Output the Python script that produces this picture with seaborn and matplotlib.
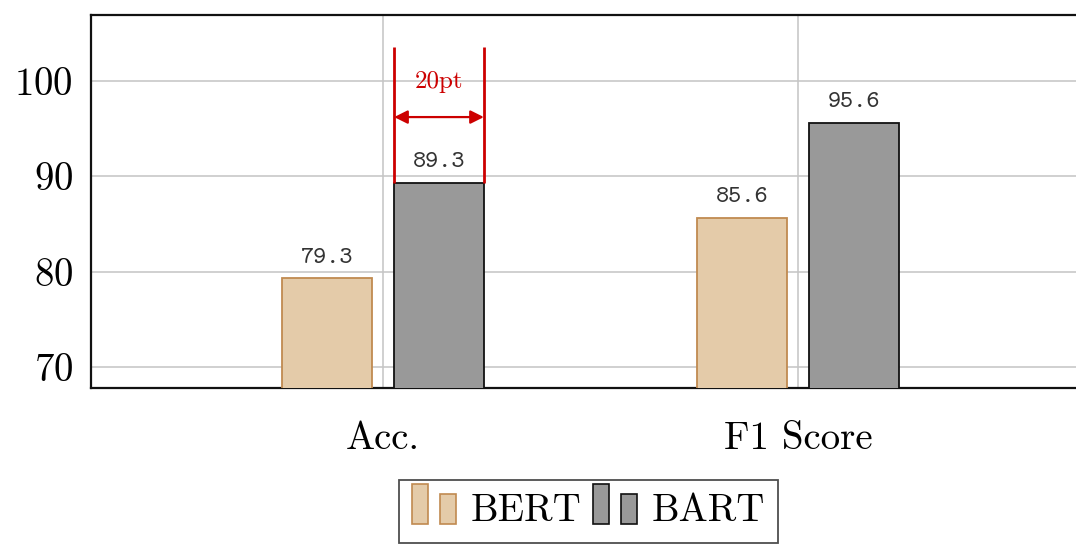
import pandas as pd
import seaborn as sns
import matplotlib
matplotlib.use("Agg")
import matplotlib.pyplot as plt
import matplotlib.patches as mpatches
from matplotlib.legend_handler import HandlerBase

# data
metrics = ["Acc.", "F1 Score"]
bert_scores = [79.3, 85.6]
bart_scores = [89.3, 95.6]
models = ["BERT", "BART"]
y_ticks = [70, 80, 90, 100]
gap_label = "20pt"

bert_fill, bert_edge = "#e4cba9", "#c08a50"
bart_fill, bart_edge = "#999999", "#111111"
red = "#cc0000"


class HandlerTwoBars(HandlerBase):
    # pgfplots ybar legend: two small bars per entry
    def create_artists(self, legend, orig_handle, xdescent, ydescent,
                       width, height, fontsize, trans):
        w = width * 0.37
        y0 = -ydescent - 0.1 * height
        kw = dict(facecolor=orig_handle.get_facecolor(),
                  edgecolor=orig_handle.get_edgecolor(), lw=1.2, transform=trans)
        r1 = mpatches.Rectangle((-xdescent, y0), w, height * 1.45, **kw)
        r2 = mpatches.Rectangle((-xdescent + width * 0.65, y0), w, height * 1.08, **kw)
        return [r1, r2]


sns.set_style("white")
plt.rcParams['font.family'] = ['cmr10', 'DejaVu Serif']
plt.rcParams['axes.formatter.use_mathtext'] = True
plt.rcParams['text.color'] = 'black'
plt.rcParams['xtick.labelcolor'] = 'black'
plt.rcParams['ytick.labelcolor'] = 'black'

df = pd.DataFrame({
    "metric": metrics * 2,
    "score": bert_scores + bart_scores,
    "model": [models[0]] * len(metrics) + [models[1]] * len(metrics),
})

fig = plt.figure(figsize=(10.76, 5.5), dpi=100)
ax = fig.add_axes([91 / 1076, 1 - 388 / 550, (1090 - 91) / 1076, (388 - 15) / 550])

sns.barplot(data=df, x="metric", y="score", hue="model", ax=ax,
            palette=[bert_fill, bart_fill], width=0.54, gap=0.2, saturation=1,
            legend=False, zorder=3)

edges = [bert_edge, bart_edge]
for cont, ec in zip(ax.containers, edges):
    for bar in cont:
        bar.set_edgecolor(ec)
        bar.set_linewidth(1.3)
    ax.bar_label(cont, fmt="%.1f", padding=7, fontsize=18, family="cmtt10", color="#333333")

ax.set_ylim(67.8, 106.9)
ax.set_xlim(-0.7035, 1.7035)
ax.set_yticks(y_ticks)
ax.set_xlabel("")
ax.set_ylabel("")
ax.grid(True, color="#c4c4c4", lw=1.1, zorder=0)
ax.set_axisbelow(True)
ax.tick_params(axis="y", labelsize=28, direction="in", length=7, color="#888888",
               right=True, pad=13)
ax.tick_params(axis="x", labelsize=28, direction="out", length=10, color="#aaaaaa", pad=14)
for s in ax.spines.values():
    s.set_color("#111111")
    s.set_linewidth(1.6)

# 20pt width annotation over the BART bar at Acc.
bar = ax.containers[1][0]
x0 = bar.get_x()
x1 = bar.get_x() + bar.get_width()
top = bar.get_height()
ax.vlines([x0, x1], top, 103.5, color=red, lw=2, zorder=5)
ax.annotate("", xy=(x0, 96.2), xytext=(x1, 96.2),
            arrowprops=dict(arrowstyle="<|-|>", color=red, lw=1.6,
                            mutation_scale=20, shrinkA=0, shrinkB=0), zorder=5)
ax.text((x0 + x1) / 2, 99.9, gap_label, color=red, fontsize=18,
        ha="center", va="center", zorder=5)

handles = [mpatches.Patch(facecolor=bert_fill, edgecolor=bert_edge, label=models[0]),
           mpatches.Patch(facecolor=bart_fill, edgecolor=bart_edge, label=models[1])]
leg = fig.legend(handles=handles, loc="upper center", bbox_to_anchor=(0.547, 0.128),
                 ncol=2, fontsize=28, frameon=True, fancybox=False,
                 edgecolor="#222222", handlelength=1.1, handletextpad=0.4,
                 columnspacing=0.3, borderpad=0.35, borderaxespad=0,
                 handler_map={mpatches.Patch: HandlerTwoBars()})
leg.get_frame().set_linewidth(1.3)

plt.savefig("out.png", dpi=100)
